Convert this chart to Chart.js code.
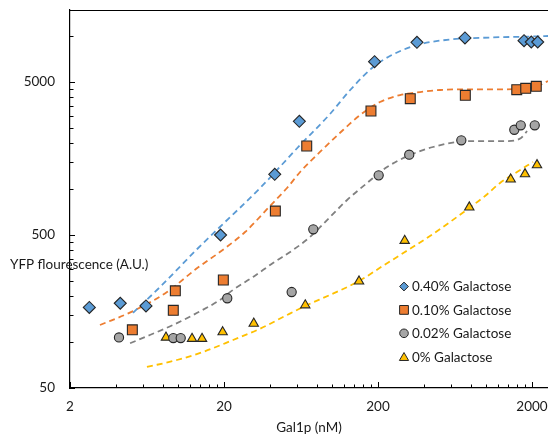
<!DOCTYPE html>
<html>
<head>
<meta charset="utf-8">
<title>Gal1p vs YFP</title>
<style>
  body { margin: 0; background: #fff; }
  canvas { display: block; }
</style>
<script src="https://cdn.jsdelivr.net/npm/chart.js"></script>
</head>
<body>
<canvas id="gal-chart" width="548" height="436"></canvas>
<script>
// measured points, Gal1p (nM) vs YFP (A.U.)
const seriesNames = ['0.40% Galactose', '0.10% Galactose', '0.02% Galactose', '0% Galactose'];

const gal40X = [2.67, 4.24, 6.23, 19.0, 42.7, 61.7, 190, 358, 734, 1775, 1978, 2178];
const gal40Y = [168, 179, 172, 500, 1247, 2767, 6790, 9087, 9700, 9310, 9130, 9130];

const gal10X = [5.08, 9.66, 9.37, 19.8, 43.1, 68.9, 180, 324, 738, 1592, 1820, 2132];
const gal10Y = [120, 216, 161, 254, 717, 1909, 3232, 3890, 4093, 4453, 4545, 4686];

const gal02X = [4.16, 9.37, 10.47, 21.0, 55.0, 76.0, 202, 319, 695, 1535, 1690, 2083];
const gal02Y = [107, 106, 106, 193, 212, 545, 1227, 1674, 2080, 2438, 2606, 2606];

const gal00X = [8.40, 12.4, 14.4, 19.6, 31.2, 67.4, 150.6, 298, 783, 1454, 1801, 2155];
const gal00Y = [107, 105, 105, 116, 132, 174, 249, 459, 759, 1156, 1252, 1434];

// fitted trend curves
const fit40X = [5.13, 7.7, 13.4, 18.8, 34.3, 62.4, 97.6, 132, 186, 239, 358, 587, 1067, 1941, 2541];
const fit40Y = [155, 229, 405, 564, 1014, 1937, 3090, 4435, 6266, 7395, 8728, 9480, 9770, 9915, 9995];

const fit10X = [3.13, 5.13, 8.53, 13.4, 18.8, 27.4, 39.8, 51.3, 62.4, 84, 113, 153, 206, 278, 375, 506, 791, 1240, 1598, 1941, 2254, 2541];
const fit10Y = [129, 159, 212, 304, 387, 523, 774, 1014, 1291, 1745, 2321, 3041, 3700, 4110, 4300, 4435, 4480, 4480, 4500, 4570, 4775, 5080];

const fit02X = [4.91, 6.6, 9.33, 13.4, 18.8, 22.9, 30.9, 41.6, 56.1, 72.3, 97.6, 126, 170, 229, 323, 455, 652, 918, 1377, 1697, 1857];
const fit02Y = [98, 111, 129, 155, 188, 219, 266, 328, 399, 485, 655, 847, 1094, 1391, 1665, 1880, 2027, 2057, 2057, 2152, 2392];

const fit00X = [6.32, 9.9, 14.6, 22.9, 34.3, 51.3, 69.2, 97.6, 150.6, 215, 299, 435, 587, 780, 991, 1240, 1598, 2028];
const fit00Y = [68.6, 76.2, 86, 103, 122, 150, 174, 203, 250, 314, 387, 493, 608, 750, 899, 1094, 1291, 1500];

// axis ticks
const xTickLabels = [2, 20, 200, 2000];
const xMinorTicks = [4, 6, 8, 10, 12, 14, 16, 18, 40, 60, 80, 100, 120, 140, 160, 180,
                     400, 600, 800, 1000, 1200, 1400, 1600, 1800];
const yTickLabels = [50, 500, 5000];
const yMinorTicks = [100, 150, 200, 250, 300, 350, 400, 450,
                     1000, 1500, 2000, 2500, 3000, 3500, 4000, 4500, 10000];

const FONT = 'Lato, "Open Sans", sans-serif';
const colors = ['#5b9bd5', '#ed7d31', '#a5a5a5', '#ffc000'];
const lineColors = ['#5b9bd5', '#ed7d31', '#808080', '#ffc000'];
const styles = ['rectRot', 'rect', 'circle', 'triangle'];
const radii = [6, 7, 4.6, 5.4];

const toPts = (xs, ys) => xs.map((x, i) => ({ x: x, y: ys[i] }));

const pointSets = [[gal40X, gal40Y], [gal10X, gal10Y], [gal02X, gal02Y], [gal00X, gal00Y]];
const fitSets = [[fit40X, fit40Y], [fit10X, fit10Y], [fit02X, fit02Y], [fit00X, fit00Y]];

const datasets = [];
pointSets.forEach((s, i) => {
  datasets.push({
    label: seriesNames[i],
    data: toPts(s[0], s[1]),
    pointStyle: styles[i],
    pointRadius: radii[i],
    backgroundColor: colors[i],
    borderColor: '#262626',
    borderWidth: 1.1,
    order: 0
  });
});
fitSets.forEach((s, i) => {
  datasets.push({
    type: 'line',
    label: seriesNames[i] + ' fit',
    data: toPts(s[0], s[1]),
    borderColor: lineColors[i],
    borderWidth: 1.8,
    borderDash: [6, 4],
    pointRadius: 0,
    fill: false,
    cubicInterpolationMode: 'monotone',
    order: 1
  });
});

function drawMarker(ctx, style, x, y, r) {
  ctx.beginPath();
  if (style === 'rectRot') {
    ctx.moveTo(x, y - r); ctx.lineTo(x + r, y); ctx.lineTo(x, y + r); ctx.lineTo(x - r, y);
    ctx.closePath();
  } else if (style === 'rect') {
    ctx.rect(x - r, y - r, 2 * r, 2 * r);
  } else if (style === 'circle') {
    ctx.arc(x, y, r, 0, Math.PI * 2);
  } else {
    ctx.moveTo(x, y - r); ctx.lineTo(x + r * 1.1, y + r * 0.9); ctx.lineTo(x - r * 1.1, y + r * 0.9);
    ctx.closePath();
  }
  ctx.fill();
  ctx.stroke();
}

// inner tick marks, top frame line, y title and the in-plot legend
const decorPlugin = {
  id: 'decor',
  afterDraw(chart) {
    const { ctx, chartArea: a, scales } = chart;
    ctx.save();
    ctx.strokeStyle = '#000';
    ctx.lineWidth = 1;
    ctx.beginPath();
    ctx.moveTo(a.left, a.top + 0.5); ctx.lineTo(a.right, a.top + 0.5);
    xTickLabels.concat(xMinorTicks).forEach(v => {
      const px = Math.round(scales.x.getPixelForValue(v)) + 0.5;
      const len = xTickLabels.includes(v) ? 6 : 3.5;
      ctx.moveTo(px, a.bottom); ctx.lineTo(px, a.bottom - len);
    });
    yTickLabels.concat(yMinorTicks).forEach(v => {
      const py = Math.round(scales.y.getPixelForValue(v)) + 0.5;
      const len = yTickLabels.includes(v) ? 5 : 3.5;
      ctx.moveTo(a.left, py); ctx.lineTo(a.left + len, py);
    });
    ctx.stroke();

    ctx.fillStyle = '#1a1a1a';
    ctx.font = '13.5px ' + FONT;
    ctx.textBaseline = 'middle';
    ctx.textAlign = 'left';
    ctx.fillText('YFP flourescence (A.U.)', 10, 265);

    const lx = 404, ly = 286.5, step = 23.4;
    const legR = [4.4, 4.4, 4.3, 4.2];
    ctx.lineWidth = 1;
    seriesNames.forEach((name, i) => {
      const y = ly + i * step;
      ctx.fillStyle = colors[i];
      ctx.strokeStyle = '#262626';
      drawMarker(ctx, styles[i], lx, y, legR[i]);
      ctx.fillStyle = '#1a1a1a';
      ctx.fillText(name, 412, y + 0.5);
    });
    ctx.restore();
  }
};

new Chart(document.getElementById('gal-chart'), {
  type: 'scatter',
  data: { datasets: datasets },
  plugins: [decorPlugin],
  options: {
    responsive: false,
    devicePixelRatio: 1,
    animation: false,
    layout: { autoPadding: false, padding: { top: 10, right: 0, left: 0, bottom: 0 } },
    plugins: { legend: { display: false }, tooltip: { enabled: false } },
    scales: {
      x: {
        type: 'logarithmic',
        min: 2,
        max: 2540,
        grid: { display: false, drawTicks: false },
        border: { display: true, color: '#000', width: 1.2 },
        afterBuildTicks: s => { s.ticks = xTickLabels.map(v => ({ value: v })); },
        afterFit: s => { s.height = 48; s.paddingLeft = 0; s.paddingRight = 0; },
        ticks: {
          autoSkip: false, maxRotation: 0, padding: 11, color: '#1a1a1a',
          font: { family: FONT, size: 13.5 },
          callback: v => String(v)
        },
        title: {
          display: true, text: 'Gal1p (nM)', color: '#1a1a1a',
          font: { family: FONT, size: 13.5 }, padding: { top: 0, bottom: 0 }
        }
      },
      y: {
        type: 'logarithmic',
        min: 50,
        max: 14780,
        grid: { display: false, drawTicks: false },
        border: { display: true, color: '#000', width: 1.2 },
        afterBuildTicks: s => { s.ticks = yTickLabels.map(v => ({ value: v })); },
        afterFit: s => { s.width = 70; s.paddingTop = 0; s.paddingBottom = 0; },
        ticks: {
          autoSkip: false, padding: 15, color: '#1a1a1a',
          font: { family: FONT, size: 13.5 },
          callback: v => String(v)
        }
      }
    }
  }
});
</script>
</body>
</html>
